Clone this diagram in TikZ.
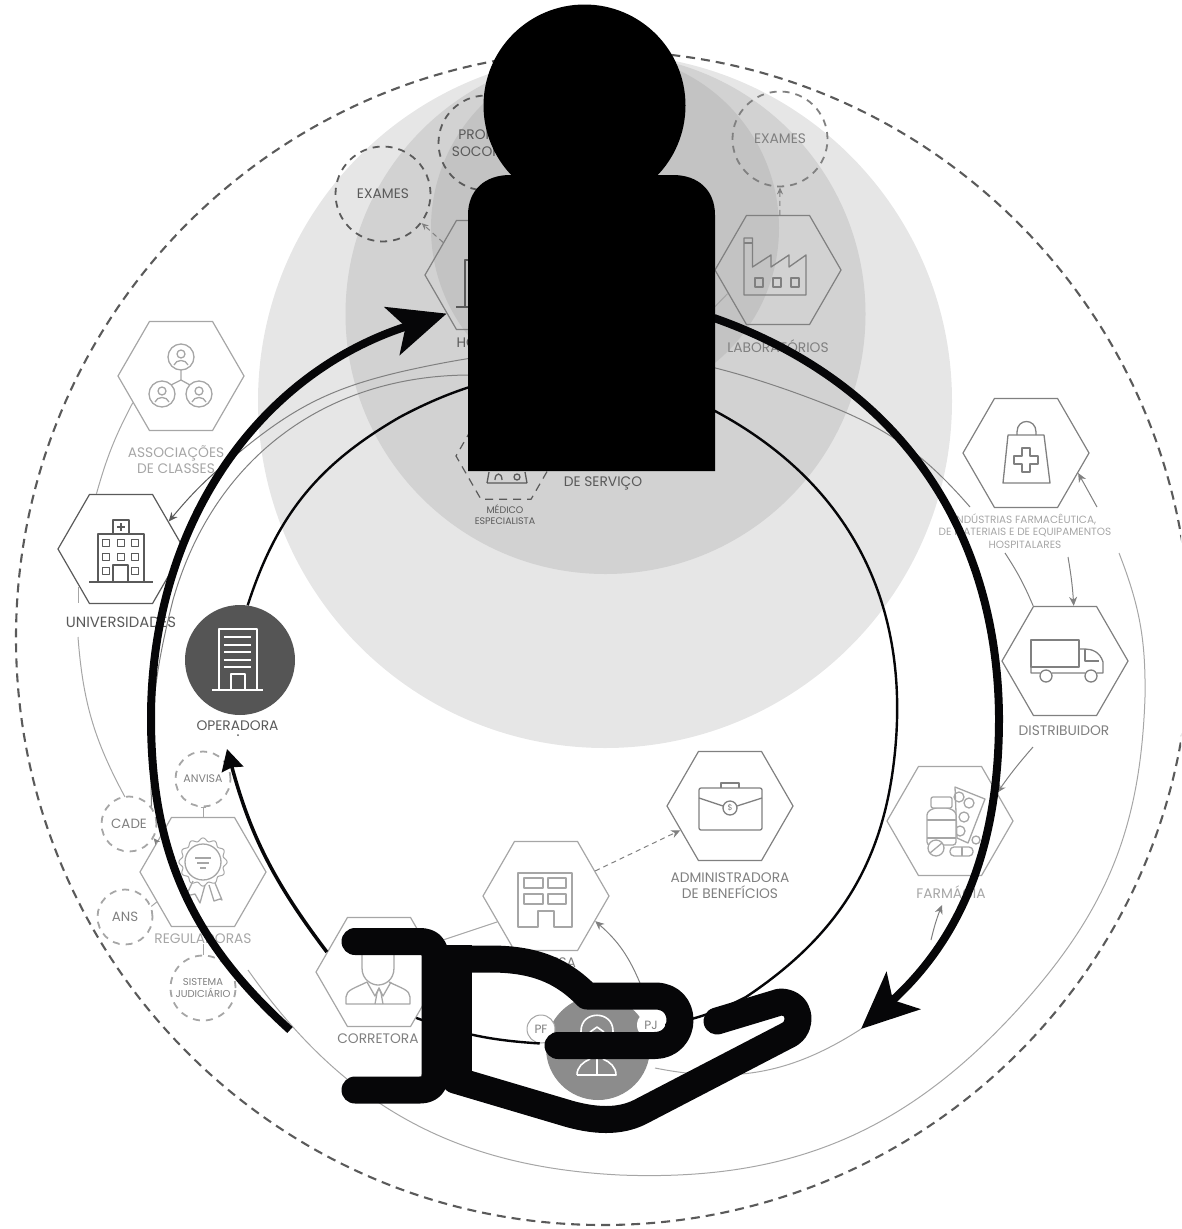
\documentclass[tikz,border=0pt]{standalone}
\usepackage{xcolor}
\usepackage{fontspec}
\setmainfont{Poppins}
\usetikzlibrary{arrows.meta,positioning,shapes.geometric,calc}
\definecolor{ringOuter}{HTML}{E6E6E6}
\definecolor{ringMid}{HTML}{D2D2D2}
\definecolor{ringInner}{HTML}{C3C3C3}
\definecolor{lineDark}{HTML}{5A5A5A}
\definecolor{lineMid}{HTML}{808080}
\definecolor{lineSoft}{HTML}{A6A6A6}
\definecolor{disc}{HTML}{555555}
\definecolor{discSoft}{HTML}{8C8C8C}
\definecolor{inkBlack}{HTML}{060608}

\begin{document}
\begin{tikzpicture}[x=1pt, y=-1pt,
  hexa/.style={regular polygon, regular polygon sides=6, inner sep=0pt, minimum size=126pt, draw=lineSoft, line width=1.2pt},
  hexadark/.style={hexa, draw=lineDark},
  dashc/.style={circle, inner sep=0pt, draw=lineSoft, line width=1.8pt, dash pattern=on 7pt off 6pt, align=center},
  lbl/.style={inner sep=0pt, align=center, text=lineSoft, font=\fontsize{13.8}{16}\selectfont},
  wire/.style={draw=lineSoft, line width=1pt},
  wiretip/.style={wire, draw=lineMid, -{Stealth[length=9pt,width=8pt]}},
  wiredash/.style={wiretip, dash pattern=on 5pt off 4pt},
  ico/.style={draw=lineSoft, line width=1.3pt, line join=round},
  icowhite/.style={draw=white, line width=1.6pt, line join=round},
  bigarrow/.style={draw=inkBlack, line width=8pt, -{Stealth[length=57pt,width=50pt,inset=14pt]}},
  loopline/.style={draw=inkBlack, line width=2.4pt},
  handline/.style={draw=inkBlack, line width=27pt, line cap=round, line join=round},
  facepic/.pic={
    \draw[ico] (0,0) circle (13);
    \draw[ico] (0,-3) circle (4);
    \draw[ico] (-7,8) .. controls (-5,2) and (5,2) .. (7,8);
  }
]
\clip (0,0) rectangle (1181,1229);
\fill[ringOuter] (605,401) circle (347);
\fill[ringMid] (605.5,314) circle (260);
\fill[ringInner] (605,228) circle (174);
\draw[lineDark, line width=2.1pt, dash pattern=on 9pt off 6pt] (603,638) circle (587);

\node[hexa] (assoc) at (181,376) {};
\node[hexadark] (univ) at (121,549) {};
\node[hexa] (reg) at (203,872) {};
\node[hexa] (corr) at (379,972) {};
\node[hexa] (emp) at (546,896) {};
\node[hexa, draw=lineMid] (admin) at (730,806) {};
\node[hexa] (farm) at (950,821) {};
\node[hexa, draw=lineMid] (dist) at (1065,661) {};
\node[hexa, draw=lineMid] (ind) at (1026,453) {};
\node[hexa, draw=lineMid] (lab) at (778,270) {};
\node[hexa, draw=lineMid] (hosp) at (488,275) {};
\node[hexadark, minimum size=100pt, line width=1.2pt, dash pattern=on 8pt off 6pt] (med) at (506,456) {};

\node[dashc, draw=lineDark, minimum size=95pt, text=lineDark, font=\fontsize{13.8}{16.5}\selectfont] (exleft) at (383,194) {EXAMES};
\node[dashc, draw=lineDark, minimum size=95pt, text=lineDark, font=\fontsize{13.8}{16.5}\selectfont] (socorro) at (486,143) {PRONTO\\SOCORRO};
\node[dashc, draw=lineMid, minimum size=95pt, text=lineMid, font=\fontsize{13.8}{16.5}\selectfont] (exright) at (780,139) {EXAMES};
\node[dashc, minimum size=55pt, text=lineMid, font=\fontsize{11}{12}\selectfont] (anvisa) at (203,779) {ANVISA};
\node[dashc, minimum size=55pt, text=lineMid, font=\fontsize{13.4}{12}\selectfont] (cade) at (129,824) {CADE};
\node[dashc, minimum size=55pt, text=lineMid, font=\fontsize{13.4}{12}\selectfont] (ans) at (125,917) {ANS};
\node[dashc, minimum size=65pt, text=lineMid, font=\fontsize{10}{12}\selectfont] (sistema) at (203,988) {SISTEMA\\JUDICIÁRIO};

\node[lbl] (assoctxt) at (176,459.5) {ASSOCIAÇÕES\\DE CLASSES};
\node[lbl, text=lineDark, font=\fontsize{14.8}{16}\selectfont] (univtxt) at (121,622) {UNIVERSIDADES};
\node[lbl, text=lineDark] (opertxt) at (237.5,726) {OPERADORA};
\node[lbl] (regtxt) at (203,939) {REGULADORAS};
\node[lbl, text=lineMid] (corrtxt) at (378,1039) {CORRETORA};
\node[lbl, text=lineMid] (emptxt) at (546,963) {EMPRESA};
\node[lbl, text=lineMid] (admintxt) at (730,886) {ADMINISTRADORA\\DE BENEFÍCIOS};
\node[lbl] (farmtxt) at (951,892) {FARMÁCIA};
\node[lbl, text=lineMid] (disttxt) at (1064,731) {DISTRIBUIDOR};
\node[lbl, font=\fontsize{10.5}{12.2}\selectfont] (indtxt) at (1025,531) {INDÚSTRIAS FARMACÊUTICA,\\DE MATERIAIS E DE EQUIPAMENTOS\\HOSPITALARES};
\node[lbl, text=lineMid] (labtxt) at (778,346) {LABORATÓRIOS};
\node[lbl, text=lineDark] (hosptxt) at (488,343) {HOSPITAL};
\node[lbl, text=lineDark] (prestxt) at (603,475) {PRESTADOR\\DE SERVIÇO};
\node[lbl, text=lineDark, font=\fontsize{9.5}{11}\selectfont] (medtxt) at (505,514.5) {MÉDICO\\ESPECIALISTA};

\coordinate (a1) at (970,507);
\coordinate (a2) at (820,402);
\coordinate (a3) at (400,372);
\coordinate (a4) at (242,450);
\coordinate (b1) at (470,375);
\coordinate (b3) at (173,600);
\coordinate (b4) at (151,773);
\coordinate (t1) at (248,970);
\coordinate (t2) at (620,1175);
\coordinate (t3) at (1020,1007);
\coordinate (t4) at (1145,697);
\coordinate (t5) at (1119,553);
\coordinate (u1) at (78,637);
\coordinate (u2) at (125,797);
\coordinate (u3) at (78,587);
\coordinate (u4) at (78,603);
\coordinate (d1) at (1005,553);
\coordinate (d2) at (1068,557);
\coordinate (d3) at (1097,507);
\coordinate (d4) at (1033,747);
\coordinate (f1) at (931,940);
\coordinate (f2) at (942,905);
\coordinate (labout) at (700,322);
\coordinate (persontop) at (640,983);
\coordinate (personout) at (655,1068);
\coordinate (thicktip) at (861,1029);

\draw[wire, draw=lineMid] (a1) to[bend right=14] (a2) to[bend right=17] (a3) to[bend right=13] (a4);
\draw[wiretip, draw=lineDark] (a4) to[bend right=6] (univ.30);
\draw[wire, draw=lineMid] (b1) to[bend right=37] (b3) to[bend right=7] (b4) -- (cade.38);
\draw[wire] (t1) to[bend right=26] (t2) to[bend right=25] (t3) to[bend right=20] (t4) to[bend right=11] (t5);
\draw[wire] (assoc.209) to[bend right=6] (univ.114);
\draw[wire] (u1) to[bend right=12] (u2);
\draw[wire] (u3) -- (u4);
\draw[wire, draw=lineMid] (d1) to[bend left=5] (dist.120);
\draw[wiretip] (d2) to[bend left=3] (dist.81);
\draw[wiretip] (d3) -- (ind.-21);
\draw[wiretip] (d4) to[bend right=3] (farm.31);
\draw[wiretip] (f1) to[bend left=4] (f2);
\draw[wire] (lab.205) -- (labout);
\draw[wire] (corr.29) -- (emp.208);
\draw[wiretip] (persontop) to[bend right=13] (emp.-27);
\draw[wire] (personout) to[bend right=22] (thicktip);
\draw[wiredash] (emp.27) -- (admin.206);
\draw[wiredash, -{Stealth[length=7pt,width=6pt]}] (hosp.144) -- (exleft.-37);
\draw[wiredash, -{Stealth[length=7pt,width=6pt]}] (lab.88) -- (exright.south);
\draw[wire, {Bar[width=5pt,length=1pt]}-] (anvisa.south) -- (reg.north);
\draw[wire] (regtxt.south) -- (sistema.north);
\draw[wire] (ans.22) -- (reg.213);
\draw[wiretip, -{Stealth[length=7pt,width=6pt]}] (reg.147) -- (cade.-30);

\pic at (181,357) {facepic};
\pic at (162,394) {facepic};
\pic at (199,394) {facepic};
\draw[ico] (181,370) -- (181,380) -- (171,385);
\draw[ico] (181,380) -- (190,385);

\draw[ico, draw=lineDark] (89,582) -- (153,582);
\draw[ico, draw=lineDark] (98,582) -- (98,534) -- (144,534) -- (144,582);
\draw[ico, draw=lineDark] (113,534) -- (113,520) -- (129,520) -- (129,534);
\draw[ico, draw=lineDark] (121,523) -- (121,531) (117,527) -- (125,527);
\foreach \wx in {102.5,117.5,131.5} \foreach \wy in {539.5,553.5} \draw[ico, draw=lineDark] (\wx,\wy) rectangle ++(7,7);
\draw[ico, draw=lineDark] (102.5,567.5) rectangle ++(7,7);
\draw[ico, draw=lineDark] (131.5,567.5) rectangle ++(7,7);
\draw[ico, draw=lineDark] (113,582) -- (113,565) -- (128,565) -- (128,582);

\draw[wire, draw=lineSoft] plot[domain=0:360, samples=145, smooth] ({203+(22.5+1.6*cos(12*\x))*cos(\x)},{862+(22.5+1.6*cos(12*\x))*sin(\x)});
\draw[ico] (203,862) circle (18);
\draw[ico] (195,858) -- (211,858) (197,863) -- (209,863) (200,868) -- (206,868);
\draw[ico] (193,881) -- (186,896) -- (195,894) -- (200,903) -- (205,885);
\draw[ico] (209,885) -- (214,901) -- (220,899) -- (222,900) -- (215,883);

\draw[ico] (362,950) -- (362,968) .. controls (362,980) and (372,985) .. (378,985) .. controls (385,985) and (394,980) .. (394,968) -- (394,950);
\draw[ico] (367,982) .. controls (355,988) and (346,990) .. (346,997) -- (346,1004) -- (410,1004) -- (410,997) .. controls (410,990) and (401,988) .. (389,982);
\draw[ico] (367,982) -- (375,996) -- (379,988) -- (383,996) -- (391,982);
\draw[ico] (375,1004) -- (377,993) -- (379,988) -- (381,993) -- (383,1004);

\draw[ico] (538,927) -- (518,927) -- (518,873) -- (572,873) -- (572,927) -- (554,927) -- (554,911) -- (538,911) -- cycle;
\draw[ico] (524,878) rectangle (543,888) (548,878) rectangle (566,888) (524,894) rectangle (543,904) (548,894) rectangle (566,904);

\draw[ico, draw=lineMid, rounded corners=2pt] (699,788) rectangle (762,830);
\draw[ico, draw=lineMid] (721,788) -- (721,783) -- (739,783) -- (739,788);
\draw[ico, draw=lineMid] (699,798) -- (723,806) (737,806) -- (762,798);
\node[circle, ico, draw=lineMid, inner sep=0pt, minimum size=14pt, text=lineMid, font=\fontsize{8}{8}\selectfont] (coin) at (730,808) {\$};

\draw[ico] (955,787) -- (985,799) -- (968,843) -- (957,838) -- cycle;
\draw[ico] (959,797) circle (5) (969,803) circle (5) (964,817) circle (5) (960,831) circle (5) (976,840) circle (4);
\draw[ico, fill=white, rounded corners=3pt] (927,845) -- (927,812) -- (934,808) -- (949,808) -- (956,812) -- (956,845) -- cycle;
\draw[ico, fill=white, rounded corners=2pt] (931,797) rectangle (952,808);
\draw[ico] (927,820) -- (956,820) (927,838) -- (956,838);
\draw[ico, fill=white] (936,848) circle (8);
\draw[ico] (930,853) -- (942,843);
\draw[ico, rounded corners=4pt] (950,847) rectangle (973,856);
\draw[ico] (962,847) -- (962,856);

\draw[ico, draw=lineMid] (1031,640) rectangle (1079,667);
\draw[ico, draw=lineMid] (1031,667) -- (1031,673) -- (1040,673) (1052,673) -- (1085,673) (1097,673) -- (1103,673) -- (1103,662) .. controls (1100,652) and (1092,649) .. (1085,649) -- (1079,649);
\draw[ico, draw=lineMid] (1085,649) -- (1085,661) -- (1099,661);
\draw[ico, draw=lineMid] (1046,676) circle (6) (1091,676) circle (6);

\draw[ico, draw=lineMid] (1008,435) -- (1044,435) -- (1050,483) -- (1003,483) -- cycle;
\draw[ico, draw=lineMid] (1017,435) -- (1017,432) .. controls (1017,418) and (1036,418) .. (1036,432) -- (1036,435);
\draw[ico, draw=lineMid] (1022,448) -- (1030,448) -- (1030,456) -- (1038,456) -- (1038,464) -- (1030,464) -- (1030,472) -- (1022,472) -- (1022,464) -- (1014,464) -- (1014,456) -- (1022,456) -- cycle;

\draw[ico, draw=lineMid] (744,238) -- (752.5,238) -- (752.5,267) -- (771,255) -- (771,267) -- (789,255) -- (789,267) -- (806,255) -- (806,295) -- (744,295) -- cycle;
\draw[ico, draw=lineMid] (744,243) -- (752.5,243);
\draw[ico, draw=lineMid] (755,278) rectangle ++(8,9) (773,278) rectangle ++(8,9) (791,278) rectangle ++(8,9);

\draw[ico, draw=lineDark] (456,307) -- (470,307) (465,307) -- (465,260) -- (470,260);

\draw[ico, draw=lineDark] (487,483) -- (489,472) (527,483) -- (525,472) (487,483) -- (527,483);
\draw[ico, draw=lineDark] (517,477) circle (3);
\draw[ico, draw=lineDark] (495,480) .. controls (495,472) and (502,472) .. (502,480);

\node[circle, fill=disc, inner sep=0pt, minimum size=110pt] (oper) at (240,660) {};
\draw[icowhite] (219,690) -- (219,629) -- (257,629) -- (257,690) (212,690) -- (263,690);
\foreach \sy in {637,645,652,660,667} \draw[icowhite] (224,\sy) -- (251,\sy);
\draw[icowhite] (231,690) -- (231,674) -- (245,674) -- (245,690);
\fill[lineDark] (238,735) circle (1);

\node[circle, fill=discSoft, inner sep=0pt, minimum size=104pt] (person) at (598,1048) {};
\draw[icowhite] (581,1034) -- (581,1031) .. controls (581,1010) and (613,1010) .. (613,1031) -- (613,1034);
\draw[icowhite] (590,1032) -- (597,1027) -- (604,1032);
\draw[icowhite] (577,1075) -- (616,1075) .. controls (616,1067) and (610,1062) .. (603,1059) (590,1059) .. controls (583,1062) and (577,1067) .. (577,1075) (597,1059) -- (597,1075);
\node[circle, fill=white, draw=lineSoft, line width=1pt, inner sep=0pt, minimum size=28pt, text=lineMid, font=\fontsize{12}{12}\selectfont] (pf) at (541,1029) {PF};
\node[circle, fill=white, inner sep=0pt, minimum size=28pt, text=lineMid, font=\fontsize{12}{12}\selectfont] (pj) at (651,1025) {PJ};

\coordinate (lp1) at (400,417);
\coordinate (lp2) at (715,411);
\coordinate (lp3) at (896,740);
\coordinate (lp4) at (746,997);
\draw[loopline] (oper.82) to[bend left=21] (lp1) to[bend left=27] (lp2) to[bend left=33] (lp3) to[bend left=26] (lp4) to[bend left=8] (pj.east);
\draw[loopline] (corr.-51) to[bend right=8] (pf.-95);
\coordinate (optip) at (227,749);
\draw[loopline, line width=3.5pt, -{Stealth[length=21pt,width=22pt,inset=2pt]}] (corr.159) to[bend left=11] (optip);

\coordinate (lt1) at (290,1030);
\coordinate (lt2) at (151,716);
\coordinate (rt1) at (714,318);
\coordinate (rt2) at (999,716);
\draw[bigarrow] (lt1) to[bend left=24] (lt2) to[bend left=36] (hosp.223.5);
\draw[bigarrow] (rt1) to[bend left=35] (rt2) to[bend left=24] (thicktip);

\fill[black] (584.5,105.5) circle (101);
\fill[black] (468,471) -- (468,215) .. controls (468,190) and (485,175) .. (510,175) -- (673,175) .. controls (698,175) and (715,190) .. (715,215) -- (715,471) -- cycle;

\draw[handline] (355,941.5) -- (420,941.5) .. controls (430,941.5) and (435,947) .. (435,955) -- (435,1075) .. controls (435,1084) and (430,1090) .. (420,1090) -- (355,1090);
\fill[inkBlack] (440,945) rectangle (472,1085);
\draw[handline] (460,959) -- (490,959) .. controls (530,959) and (560,968) .. (587,996) -- (655,996) .. controls (672,996) and (680,1008) .. (680,1020) .. controls (680,1034) and (670,1045.5) .. (655,1045.5) -- (558,1045.5);
\draw[handline] (455,1080) -- (563,1112) .. controls (595,1122) and (620,1122) .. (640,1112) -- (790,1034) .. controls (802,1027) and (802,1002) .. (780,1002) -- (717,1021);
\end{tikzpicture}
\end{document}
